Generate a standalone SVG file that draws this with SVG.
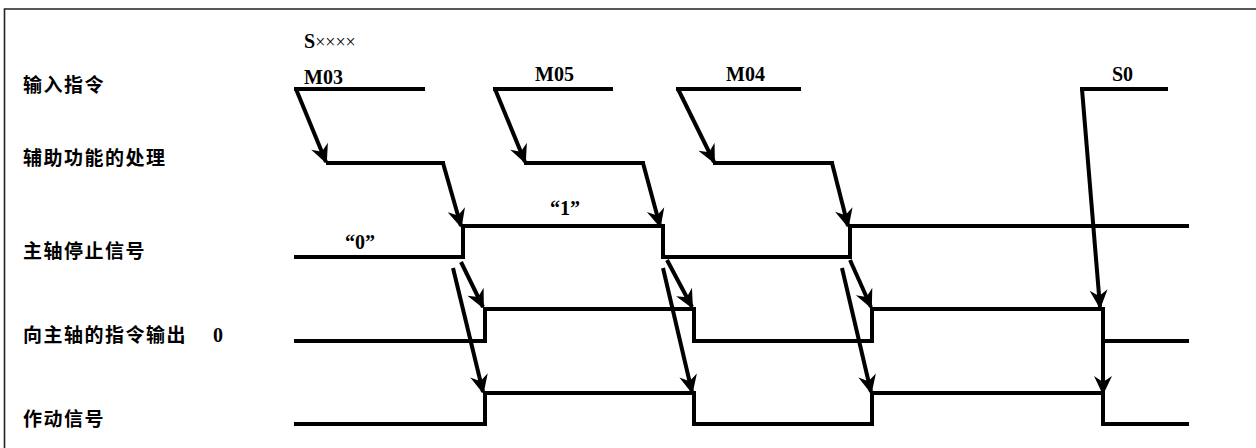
<svg xmlns="http://www.w3.org/2000/svg" width="1256" height="448" viewBox="0 0 1256 448">
<style>
.frame{fill:none;stroke:#222;stroke-width:1.6}
.wave{fill:none;stroke:#000;stroke-width:4;stroke-linejoin:miter;stroke-linecap:square}
.arr{fill:none;stroke:#000;stroke-width:4;stroke-linejoin:miter;stroke-linecap:butt;marker-end:url(#ah)}
.cn{font-family:"Noto Sans CJK SC","Noto Sans",sans-serif;font-size:19px;font-weight:700;letter-spacing:1.5px;fill:#000}
.lt{font-family:"Liberation Serif","Times New Roman",serif;font-size:20px;font-weight:700;fill:#000}
.xx{font-weight:400;font-size:18px}
</style>
<defs>
<marker id="ah" viewBox="-20 -11 24 22" markerUnits="userSpaceOnUse" markerWidth="24" markerHeight="22" refX="0" refY="0" orient="auto">
<path d="M2,0 L-17,-9 L-11,0 L-17,9 Z" fill="#000"/>
</marker>
</defs>
<rect width="1256" height="448" fill="#fff"/>
<path class="frame" d="M4.5,448 V9 H1256"/>

<g id="row-input">
<text class="cn" x="23" y="92">输入指令</text>
<text class="lt" x="304" y="48">S<tspan class="xx">××××</tspan></text>
<text class="lt" x="304" y="84">M03</text>
<text class="lt" x="535" y="81">M05</text>
<text class="lt" x="726" y="81">M04</text>
<text class="lt" x="1112" y="81">S0</text>
<path class="wave" d="M296,89 H423 M495,89 H611 M678,89 H799 M1082,89 H1166"/>
</g>

<g id="row-aux">
<text class="cn" x="23" y="165">辅助功能的处理</text>
<path class="wave" d="M328,163 H443 M526,163 H643 M715,163 H832"/>
</g>

<g id="row-stop">
<text class="cn" x="23" y="258">主轴停止信号</text>
<text class="lt" x="345" y="249">“0”</text>
<text class="lt" x="550" y="215">“1”</text>
<path class="wave" d="M296,257 H463 V226 H663 V257 H850 V226 H1187"/>
</g>

<g id="row-out">
<text class="cn" x="23" y="342">向主轴的指令输出</text>
<text class="lt" x="213" y="342">0</text>
<path class="wave" d="M296,341 H485 V309 H694 V341 H872 V309 H1103 V341 H1187"/>
</g>

<g id="row-act">
<text class="cn" x="23" y="426">作动信号</text>
<path class="wave" d="M296,424 H485 V393 H694 V424 H872 V393 H1103 V424 H1187"/>
</g>

<g id="connectors">
<path class="arr" d="M296,89 L326,162"/>
<path class="arr" d="M495,89 L525,162"/>
<path class="arr" d="M678,89 L714,162"/>
<path class="arr" d="M443,163 L461,226"/>
<path class="arr" d="M643,163 L660,226"/>
<path class="arr" d="M832,163 L848,226"/>
<path class="arr" d="M461,262 L483,307"/>
<path class="arr" d="M453,268 L483,392"/>
<path class="arr" d="M667,260 L692,307"/>
<path class="arr" d="M663,268 L692,392"/>
<path class="arr" d="M850,260 L871,307"/>
<path class="arr" d="M842,268 L871,392"/>
<path class="arr" d="M1082,89 L1100,307"/>
<path class="arr" d="M1103,341 L1103,393"/>
</g>
</svg>
